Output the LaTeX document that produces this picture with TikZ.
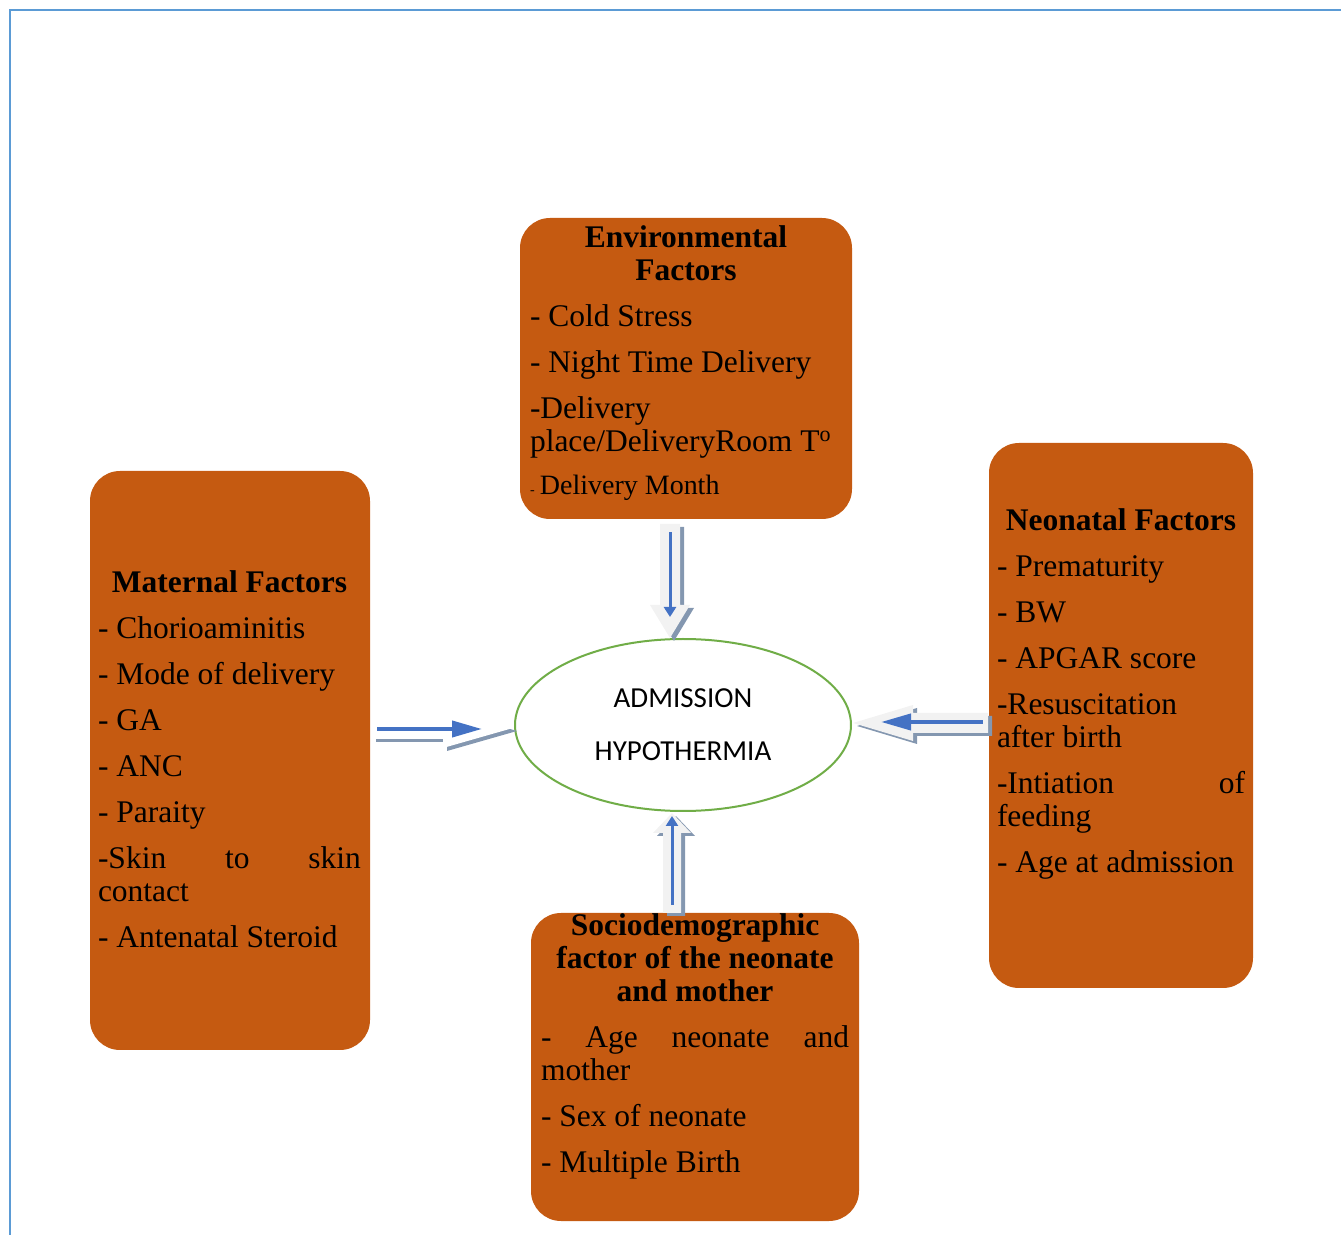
\documentclass[tikz,border=0pt]{standalone}
\usepackage{fontspec}
\setmainfont{Liberation Serif}
\newfontfamily\ovalfont{Carlito}
\usepackage{xcolor}
\usetikzlibrary{arrows.meta, positioning, shapes.geometric, calc}

\definecolor{boxorange}{HTML}{C55A11}
\definecolor{ovalgreen}{HTML}{70AD47}
\definecolor{arrowblue}{HTML}{4472C4}
\definecolor{shadowgray}{HTML}{8497B0}
\definecolor{arrowlight}{HTML}{F2F2F2}
\definecolor{frameblue}{HTML}{5B9BD5}

\newcommand\boxhead[1]{\makebox[\linewidth][c]{\bfseries #1}}
\newcommand\boxspread[3]{\makebox[\linewidth][l]{#1\hfill #2\hfill #3}}

\begin{document}
\begin{tikzpicture}[
  x=0.5pt, y=-0.5pt,
  every node/.style = {font=\fontsize{15.75}{16.5}\selectfont},
  factorbox/.style = {
    rectangle, rounded corners=15pt,
    fill=boxorange, inner sep=0pt
  },
  factortext/.style = {anchor=base west, inner sep=0pt, align=flush left},
  oval/.style = {
    ellipse, draw=ovalgreen, line width=1pt, fill=white,
    minimum width=168pt, minimum height=86pt, inner sep=0pt,
    align=center, font=\ovalfont\fontsize{14.5}{26.5}\selectfont
  },
  blockarrow/.style = {
    fill=arrowlight,
    preaction={fill=shadowgray, transform canvas={shift={(2pt,-1.5pt)}}}
  },
  arr/.style = {draw=arrowblue, line width=2pt, -{Triangle[length=15pt, width=8pt]}},
  vertarr/.style = {draw=arrowblue, line width=1.5pt, -{Triangle[length=5pt, width=6pt]}}
]
\useasboundingbox (0,0) rectangle (1341,1235);

% Page frame
\draw[frameblue, line width=1pt] (10,1235) -- (10,10) -- (1341,10);

% Factor boxes
\node[factorbox, minimum width=166pt, minimum height=150.5pt] (env) at (686,368.5) {};
\node[factorbox, minimum width=140pt, minimum height=289.5pt] (mat) at (230,760.5) {};
\node[factorbox, minimum width=132pt, minimum height=272.5pt] (neo) at (1121,715.5) {};
\node[factorbox, minimum width=164pt, minimum height=154pt] (soc) at (695,1067) {};

% Box texts
\node[factortext, text width=156pt] (envtext) at ([shift={(5pt,-15pt)}]env.north west) {%
  \boxhead{Environmental}\\
  \boxhead{Factors}\\[6.5pt]
  - Cold Stress\\[6.5pt]
  - Night Time Delivery\\[6.5pt]
  -Delivery\\
  place/DeliveryRoom T\textsuperscript{o}\\[5pt]
  {\fontsize{7}{8}\selectfont -}\,{\fontsize{14}{16.5}\selectfont Delivery Month}};
\node[factortext, text width=131.5pt] (mattext) at ([shift={(4pt,-61pt)}]mat.north west) {%
  \boxhead{Maternal Factors}\\[6.5pt]
  - Chorioaminitis\\[6.5pt]
  - Mode of delivery\\[6.5pt]
  - GA\\[6.5pt]
  - ANC\\[6.5pt]
  - Paraity\\[6.5pt]
  \boxspread{-Skin}{to}{skin}\\
  contact\\[6.5pt]
  - Antenatal Steroid};
\node[factortext, text width=124pt] (neotext) at ([shift={(4pt,-44pt)}]neo.north west) {%
  \boxhead{Neonatal Factors}\\[6.5pt]
  - Prematurity\\[6.5pt]
  - BW\\[6.5pt]
  - APGAR score\\[6.5pt]
  -Resuscitation\\
  after birth\\[6.5pt]
  \boxspread{-Intiation}{}{of}\\
  feeding\\[6.5pt]
  - Age at admission};
\node[factortext, text width=154pt] (soctext) at ([shift={(5pt,-11.5pt)}]soc.north west) {%
  \boxhead{Sociodemographic}\\
  \boxhead{factor of the neonate}\\
  \boxhead{and mother}\\[6.5pt]
  \boxspread{-\hfill Age}{neonate}{and}\\
  mother\\[6.5pt]
  - Sex of neonate\\[6.5pt]
  - Multiple Birth};

% Outcome
\node[oval] (hypo) at (683,725) {ADMISSION\\HYPOTHERMIA};

% Block arrows
\path[blockarrow, fill=white] (372,717) -- (443,717) -- (443,708) -- (513,728)
  -- (443,748) -- (443,739) -- (372,739) -- cycle;
\path[blockarrow] (988,713) -- (913,713) -- (913,705) -- (853,723)
  -- (913,741) -- (913,733) -- (988,733) -- cycle;
\path[blockarrow] (660,524) -- (680,524) -- (680,605) -- (690,605)
  -- (670,638) -- (650,605) -- (660,605) -- cycle;
\path[blockarrow] (663,913) -- (681,913) -- (681,833) -- (691,833)
  -- (672,813) -- (653,833) -- (663,833) -- cycle;

% Arrows
\draw[arr, shorten <=3.5pt, shorten >=16pt] ($(mat.east |- hypo.west)+(0,4)$) -- ($(hypo.west)+(0,4)$);
\draw[arr, shorten <=3pt, shorten >=14.5pt] ($(neo.west |- hypo.east)+(0,-3)$) -- ($(hypo.east)+(0,-3)$);
\draw[vertarr, shorten <=6.5pt, shorten >=10.5pt] ($(env.south)+(-16,0)$) -- ($(env.south |- hypo.north)+(-16,0)$);
\draw[vertarr, shorten <=4pt, shorten >=2pt] ($(soc.north)+(-23,0)$) -- ($(soc.north |- hypo.south)+(-23,0)$);

\end{tikzpicture}
\end{document}
